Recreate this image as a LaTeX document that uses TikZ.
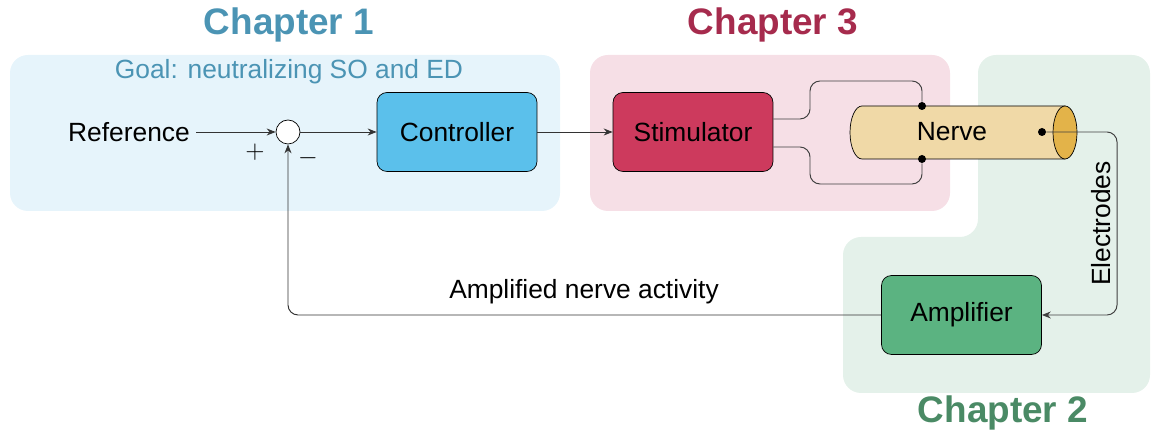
\documentclass[tikz,border=0pt]{standalone}
\usepackage{fontspec}
\setmainfont{Liberation Sans}
\usepackage{xcolor}
\usetikzlibrary{arrows.meta, positioning, calc}

\definecolor{bgone}{HTML}{E6F4FB}
\definecolor{bgtwo}{HTML}{E4F1EA}
\definecolor{bgthree}{HTML}{F6DFE6}
\definecolor{titleone}{HTML}{4B94B4}
\definecolor{titletwo}{HTML}{4A8A65}
\definecolor{titlethree}{HTML}{A62B4D}
\definecolor{ctrlfill}{HTML}{5BC0EB}
\definecolor{stimfill}{HTML}{CD3A5D}
\definecolor{ampfill}{HTML}{5BB381}
\definecolor{nervefill}{HTML}{F0D9A7}
\definecolor{nerveend}{HTML}{E3B349}

\begin{document}
\begin{tikzpicture}[
    x=0.02cm, y=0.02cm,
    every node/.style={align=center, font=\fontsize{15}{18}\selectfont},
    block/.style={draw, rounded corners=0.2cm, minimum width=3.2cm,
                  minimum height=1.58cm, inner sep=2pt},
    region/.style={rounded corners=0.36cm},
    chaptitle/.style={font=\fontsize{21}{25}\selectfont\bfseries},
    edge/.style={-{Stealth[length=1.8mm, width=1.4mm]}, black!80, line width=0.55pt},
    wire/.style={black!75, line width=0.55pt, rounded corners=0.2cm},
    dot/.style={circle, fill=black, inner sep=0pt, minimum size=1.6mm}
]
\useasboundingbox (0,0) rectangle (1152,435);

% chapter regions
\fill[bgone, region] (10,224) rectangle (560,380);
\fill[bgthree, region] (590,224) rectangle (950,380);
\fill[bgtwo, region] (978,380) -- (1150,380) -- (1150,42) -- (843,42)
    -- (843,198) -- (978,198) -- cycle;

\node[chaptitle, text=titleone] (ch1) at (289,410) {Chapter 1};
\node[chaptitle, text=titlethree] (ch3) at (773,410) {Chapter 3};
\node[chaptitle, text=titletwo] (ch2) at (1003,22) {Chapter 2};
\node[text=titleone] (goal) at (289,363) {Goal: neutralizing SO and ED};

% blocks
\node (ref) at (129,303) {Reference};
\node[draw, circle, fill=white, minimum size=0.48cm, inner sep=0pt] (sum) at (288,303) {};
\node[block, fill=ctrlfill] (ctrl) at (457,303) {Controller};
\node[block, fill=stimfill] (stim) at (693,303) {Stimulator};
\node[block, fill=ampfill] (amp) at (961.5,120) {Amplifier};

% nerve
\draw[fill=nervefill] (862,329) -- (1065,329) -- (1065,276) -- (862,276)
    arc[start angle=270, end angle=90, x radius=12, y radius=26.5] -- cycle;
\draw[fill=nerveend] (1065,302.5) ellipse[x radius=12, y radius=26.5];
\node (nerve) at (952,303) {Nerve};

\node[dot] (up) at (922,329) {};
\node[dot] (lo) at (922,276) {};
\node[dot] (rec) at (1042,303) {};

% connections
\draw[edge] (ref) -- (sum);
\draw[edge] (sum) -- (ctrl);
\draw[edge] (ctrl) -- (stim);
\draw[wire] (stim.east |- 0,316) -- (810,316) -- (810,354) -- (922,354) -- (up);
\draw[wire] (stim.east |- 0,288) -- (810,288) -- (810,251) -- (922,251) -- (lo);
\draw[wire, -{Stealth[length=1.8mm, width=1.4mm]}] (rec) -- (1117,303) -- (1117,120)
    node[midway, rotate=90, anchor=south, text=black] {Electrodes} -- (amp);
\draw[edge, rounded corners=0.2cm] (amp) -- (288,120) -- (sum);

\node (fb) at (584,143) {Amplified nerve activity};
\node (plus) at (255,283) {$+$};
\node (minus) at (308,277) {$-$};
\end{tikzpicture}
\end{document}
